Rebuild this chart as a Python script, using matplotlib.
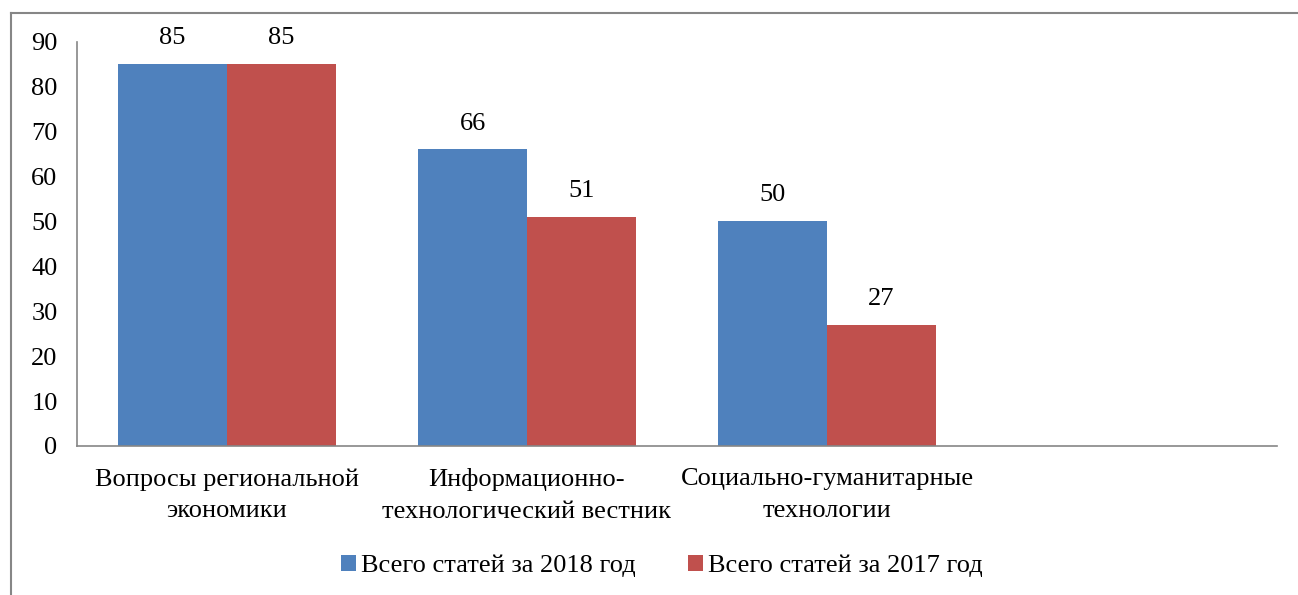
import matplotlib
matplotlib.use("Agg")
import matplotlib.pyplot as plt
import numpy as np
from matplotlib.lines import Line2D

categories = ["Вопросы региональной\nэкономики",
              "Информационно-\nтехнологический вестник",
              "Социально-гуманитарные\nтехнологии",
              ""]
vals_2018 = [85, 66, 50]
vals_2017 = [85, 51, 27]
labels = ["Всего статей за 2018 год", "Всего статей за 2017 год"]
colors = ["#4F81BD", "#C0504D"]

plt.rcParams["font.family"] = ["Liberation Serif", "DejaVu Serif"]
fs = 19

fig = plt.figure(figsize=(12.98, 5.95), dpi=100)
W, H = 1298, 595
ax = fig.add_axes([77 / W, 1 - 446 / H, 1200 / W, (446 - 41.5) / H])

x = np.arange(len(vals_2018))
bw = 0.363
b1 = ax.bar(x - bw / 2, vals_2018, bw, color=colors[0], label=labels[0])
b2 = ax.bar(x + bw / 2, vals_2017, bw, color=colors[1], label=labels[1])
for bars in (b1, b2):
    for r in bars:
        ax.text(r.get_x() + r.get_width() / 2, r.get_height() + 3.3,
                "%d" % r.get_height(), ha="center", va="bottom", fontsize=fs)

ax.set_xlim(-0.5, 3.5)
ax.set_ylim(0, 90)
ax.set_yticks(range(0, 91, 10))
ax.set_xticks(range(4))
ax.set_xticklabels(categories, fontsize=fs, linespacing=1.55)
ax.tick_params(axis="y", length=0, labelsize=fs, pad=14)
ax.tick_params(axis="x", length=0, pad=16)
for s in ("top", "right"):
    ax.spines[s].set_visible(False)
for s in ("left", "bottom"):
    ax.spines[s].set_color("#868686")
    ax.spines[s].set_linewidth(1.2)

fig.legend(handles=[b1, b2], labels=labels, loc="center",
           bbox_to_anchor=(662 / W, 1 - 566 / H), ncol=2, frameon=False,
           fontsize=fs, handlelength=0.55, handleheight=0.55,
           handletextpad=0.2, columnspacing=2.0)

# outer chart frame (only left and top edges visible)
fig.add_artist(Line2D([11 / W, 11 / W], [0, 1 - 13 / H], transform=fig.transFigure,
                      color="#868686", linewidth=1.5))
fig.add_artist(Line2D([11 / W, 1], [1 - 13 / H, 1 - 13 / H], transform=fig.transFigure,
                      color="#868686", linewidth=1.5))

fig.savefig("out.png", dpi=100)
